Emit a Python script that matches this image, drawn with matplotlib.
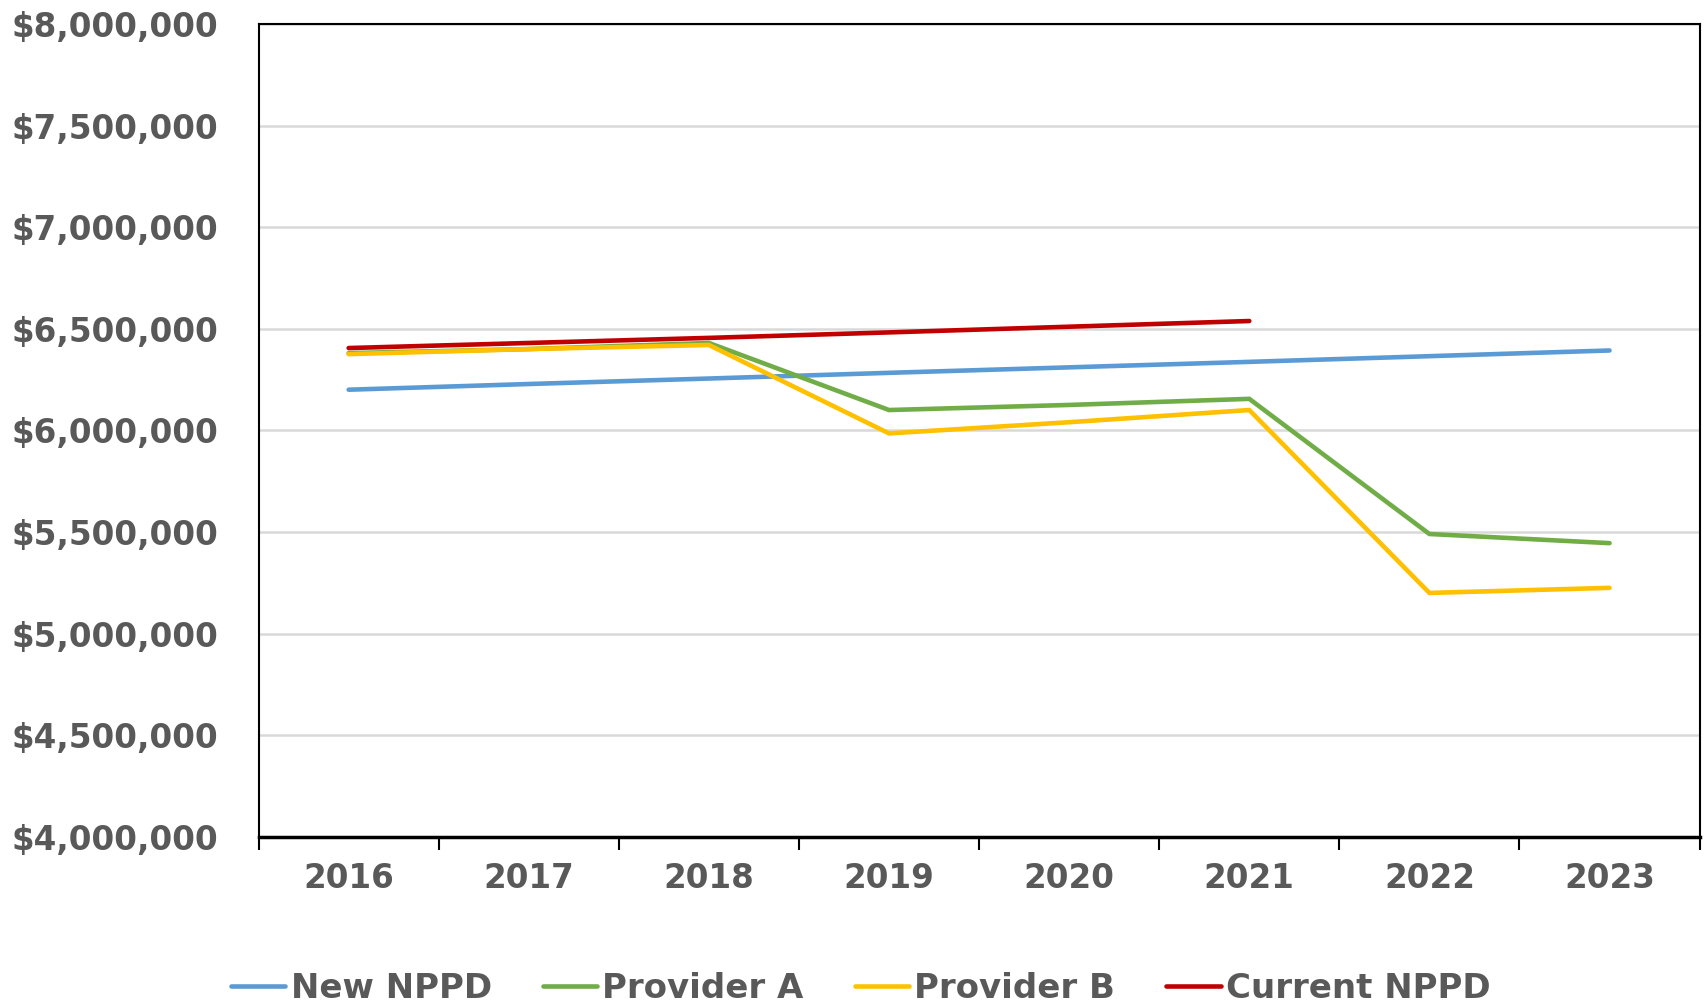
import numpy as np
import matplotlib
matplotlib.use("Agg")
import matplotlib.pyplot as plt
from matplotlib.ticker import FuncFormatter, FixedLocator

years = ["2016", "2017", "2018", "2019", "2020", "2021", "2022", "2023"]
new_nppd = [6200000, 6228000, 6255000, 6283000, 6310000, 6337000, 6365000, 6393000]
provider_a = [6380000, 6400000, 6430000, 6100000, 6125000, 6155000, 5490000, 5445000]
provider_b = [6375000, 6400000, 6420000, 5985000, 6040000, 6100000, 5200000, 5225000]
current_nppd = [6405000, 6430000, 6455000, 6482000, 6510000, 6538000, np.nan, np.nan]

series_names = ["New NPPD", "Provider A", "Provider B", "Current NPPD"]
colors = ["#5B9BD5", "#70AD47", "#FFC000", "#C00000"]
text_color = "#595959"

plt.rcParams['font.family'] = ['DejaVu Sans']
plt.rcParams['font.weight'] = 'bold'

fig = plt.figure(figsize=(17.04, 10.01), dpi=100)
ax = fig.add_axes([258.6 / 1704, 1 - 836.8 / 1001, (1699.6 - 258.6) / 1704, (836.8 - 23.9) / 1001])

x = np.arange(len(years))
for vals, name, c in zip([new_nppd, provider_a, provider_b, current_nppd], series_names, colors):
    ax.plot(x, vals, color=c, lw=3.3, label=name, solid_capstyle='round', solid_joinstyle='miter')

ax.set_xlim(-0.5, len(years) - 0.5)
ax.set_ylim(4000000, 8000000)
ax.set_yticks(np.arange(4000000, 8000001, 500000))
ax.yaxis.set_major_formatter(FuncFormatter(lambda v, p: "${:,.0f}".format(v)))
ax.tick_params(axis='y', length=0, pad=29, labelsize=23.5, labelcolor=text_color)

ax.xaxis.set_major_locator(FixedLocator(np.arange(-0.5, len(years), 1.0)))
ax.xaxis.set_major_formatter(FuncFormatter(lambda v, p: ""))
ax.xaxis.set_minor_locator(FixedLocator(x))
ax.set_xticks(x, labels=years, minor=True)
ax.tick_params(axis='x', which='major', length=9, width=1.5, direction='out', color='black')
ax.tick_params(axis='x', which='minor', length=0, pad=18, labelsize=23.5, labelcolor=text_color)

ax.grid(axis='y', color='#D9D9D9', lw=1.8)
ax.set_axisbelow(True)
for s in ['left', 'top', 'right']:
    ax.spines[s].set_linewidth(1.5)
    ax.spines[s].set_color('black')
ax.spines['bottom'].set_linewidth(2.5)
ax.spines['bottom'].set_color('black')

handles, labels = ax.get_legend_handles_labels()
leg = fig.legend(handles, labels, loc='center left', bbox_to_anchor=(231 / 1704, 1 - 988 / 1001),
                 ncol=4, frameon=False, fontsize=24.5, handlelength=1.6, handletextpad=0.15,
                 columnspacing=1.5, borderpad=0, borderaxespad=0)
for t in leg.get_texts():
    t.set_color(text_color)
    t.set_fontweight('bold')

fig.savefig("out.png", dpi=100)
